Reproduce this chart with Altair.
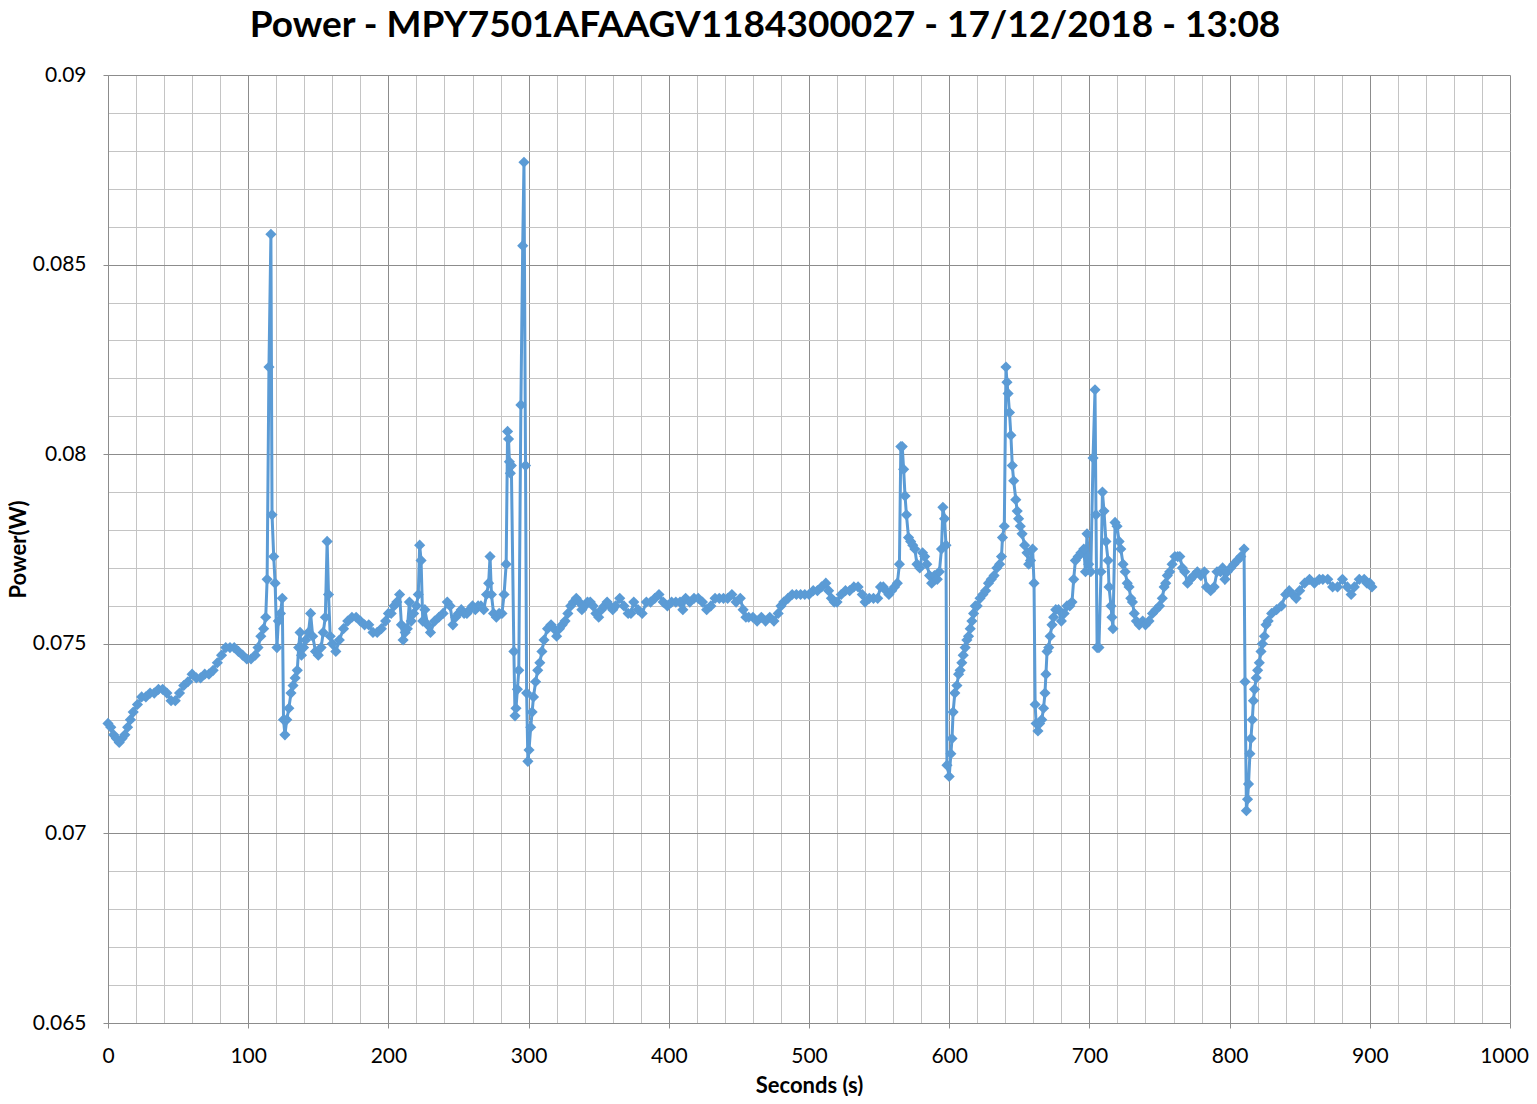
import altair as alt
import pandas as pd

# (seconds, power W) readings
seg_a = [(0, 0.0729), (2, 0.0728), (4, 0.0726), (6, 0.0725), (8, 0.0724), (10, 0.0725), (12, 0.0726),
         (14, 0.0728), (16, 0.0730), (18, 0.0732), (21, 0.0734), (24, 0.0736), (27, 0.0736), (30, 0.0737),
         (33, 0.0737), (36, 0.0738), (39, 0.0738), (42, 0.0737), (45, 0.0735), (48, 0.0735), (51, 0.0737),
         (54, 0.0739), (57, 0.0740), (60, 0.0742), (63, 0.0741), (66, 0.0741), (69, 0.0742), (72, 0.0742),
         (75, 0.0743), (78, 0.0745), (81, 0.0747), (84, 0.0749), (87, 0.0749), (90, 0.0749), (93, 0.0748),
         (96, 0.0747), (99, 0.0746), (102, 0.0746), (105, 0.0747), (107, 0.0749), (109, 0.0752), (111, 0.0754)]
seg_b = [(112.5, 0.0757), (113.5, 0.0767), (114.8, 0.0823), (116.2, 0.0858), (117, 0.0784), (118.2, 0.0773),
         (119.2, 0.0766), (120.5, 0.0749), (121.5, 0.0756), (123, 0.0758), (124.3, 0.0762), (125.2, 0.0730),
         (126.2, 0.0726), (127.5, 0.0730), (129, 0.0733), (130.5, 0.0737)]
seg_c = [(132, 0.0739), (133.5, 0.0741), (135, 0.0743), (136, 0.0749), (137, 0.0753), (138, 0.0747),
         (139.5, 0.0749), (141, 0.0751), (143, 0.0753), (144.5, 0.0758), (146, 0.0752), (148, 0.0748),
         (150, 0.0747), (152, 0.0749), (153.5, 0.0753), (155, 0.0757), (156.3, 0.0777), (157.3, 0.0763),
         (158.5, 0.0752), (160, 0.0750)]
seg_d = [(162.5, 0.0748), (165, 0.0751), (168, 0.0754), (171, 0.0756), (174, 0.0757), (177, 0.0757),
         (180, 0.0756), (183, 0.0755), (186, 0.0755), (189, 0.0753), (192, 0.0753), (195, 0.0754),
         (198, 0.0756), (200, 0.0758), (202, 0.0758), (204, 0.0760), (206, 0.0761), (208, 0.0763),
         (209.3, 0.0755), (210.5, 0.0751), (212, 0.0753), (213.5, 0.0754), (215, 0.0761), (216.3, 0.0756),
         (218, 0.0758), (220, 0.0760), (221.3, 0.0763), (222.3, 0.0776), (223.3, 0.0772), (224.5, 0.0756),
         (226, 0.0759), (228, 0.0755), (230, 0.0753), (233, 0.0756), (236, 0.0757), (239, 0.0758),
         (242, 0.0761)]
seg_e = [(244, 0.0760), (246, 0.0755), (248, 0.0757), (250, 0.0758), (252, 0.0759), (254, 0.0758),
         (256, 0.0758), (258, 0.0759), (260, 0.0760), (262, 0.0759), (264, 0.0760), (266, 0.0760),
         (268, 0.0759), (270, 0.0763), (271.5, 0.0766), (272.5, 0.0773), (273.5, 0.0763), (275, 0.0758),
         (277, 0.0757), (279, 0.0758), (281, 0.0758), (282.5, 0.0763), (284, 0.0771)]
seg_f = [(285, 0.0806), (285.7, 0.0804), (286.3, 0.0798), (287, 0.0795), (287.7, 0.0797), (289.5, 0.0748),
         (290.3, 0.0731), (291, 0.0733), (292, 0.0738), (293, 0.0743), (294.5, 0.0813), (295.8, 0.0855),
         (296.7, 0.0877), (297.8, 0.0797), (298.6, 0.0737), (299.5, 0.0719), (300.3, 0.0722), (301.5, 0.0728),
         (302.5, 0.0732), (303.5, 0.0736), (305, 0.0740), (306.5, 0.0743), (308, 0.0745), (309.5, 0.0748),
         (311, 0.0751), (313.5, 0.0754), (316, 0.0755)]
seg_g = [(318, 0.0754), (320, 0.0752), (322, 0.0754), (324, 0.0755), (326, 0.0756), (328, 0.0758),
         (330, 0.0760), (332, 0.0761), (334, 0.0762), (336, 0.0761), (338, 0.0759), (340, 0.0760),
         (342, 0.0761), (344, 0.0761), (346, 0.0760), (348, 0.0758), (350, 0.0757), (352, 0.0759),
         (354, 0.0760), (356, 0.0761), (358, 0.0760), (360, 0.0759)]
seg_h = [(362, 0.0760), (365, 0.0762), (368, 0.0760), (371, 0.0758), (373, 0.0758), (375, 0.0761),
         (378, 0.0759), (381, 0.0758), (384, 0.0761), (387, 0.0761), (390, 0.0762), (393, 0.0763),
         (396, 0.0761), (399, 0.0760), (402, 0.0761), (405, 0.0761), (408, 0.0761), (410, 0.0759),
         (412, 0.0762), (415, 0.0761), (418, 0.0762), (421, 0.0762), (424, 0.0761), (427, 0.0759),
         (430, 0.0760), (433, 0.0762), (436, 0.0762), (439, 0.0762), (442, 0.0762), (445, 0.0763),
         (448, 0.0761), (451, 0.0762), (453, 0.0759), (455, 0.0757), (457, 0.0757), (460, 0.0757),
         (463, 0.0756), (466, 0.0757), (469, 0.0756), (472, 0.0757), (475, 0.0756), (478, 0.0758)]
seg_i = [(480, 0.0760), (482, 0.0761), (485, 0.0762), (488, 0.0763), (491, 0.0763), (494, 0.0763),
         (497, 0.0763), (500, 0.0763), (503, 0.0764), (506, 0.0764), (509, 0.0765), (512, 0.0766),
         (514, 0.0764), (516, 0.0762), (518, 0.0761), (520, 0.0761), (523, 0.0763), (526, 0.0764),
         (529, 0.0764), (532, 0.0765), (535, 0.0765), (538, 0.0763), (540, 0.0761), (543, 0.0762),
         (546, 0.0762), (549, 0.0762), (551, 0.0765), (553, 0.0765), (555, 0.0764), (557, 0.0763),
         (559, 0.0764), (561, 0.0765), (563, 0.0766), (564.5, 0.0771)]
seg_j = [(565.5, 0.0802), (566.5, 0.0802), (567.5, 0.0796), (568.5, 0.0789), (569.5, 0.0784), (571, 0.0778),
         (572.5, 0.0777), (574, 0.0776), (575.5, 0.0775), (577, 0.0771), (579, 0.0770), (581, 0.0774),
         (582.5, 0.0773), (584, 0.0771), (586, 0.0768), (587.5, 0.0766), (589.5, 0.0768), (591.5, 0.0767),
         (593, 0.0769), (594.5, 0.0775), (595.5, 0.0786), (596.7, 0.0783), (597.7, 0.0776), (598.4, 0.0718),
         (600, 0.0715)]
seg_k = [(601.2, 0.0721), (602, 0.0725), (602.8, 0.0732), (604, 0.0737), (605.5, 0.0739), (606.7, 0.0742),
         (607.8, 0.0743), (609, 0.0745), (610, 0.0747), (611.4, 0.0749), (612.6, 0.0751), (613.8, 0.0752),
         (615, 0.0754), (616.2, 0.0756), (617.4, 0.0758), (618.6, 0.0760), (620, 0.0760), (622, 0.0762),
         (624, 0.0763), (626, 0.0764), (628, 0.0766), (630, 0.0767), (632, 0.0768), (634, 0.0770),
         (636, 0.0771), (637.3, 0.0773), (638, 0.0778), (639.3, 0.0781), (640.5, 0.0823), (641.2, 0.0819),
         (642, 0.0816), (643, 0.0811), (644, 0.0805), (645, 0.0797), (646, 0.0793), (647.5, 0.0788),
         (648.5, 0.0785), (649.5, 0.0783), (650.7, 0.0781), (652, 0.0779), (653.8, 0.0776), (655.5, 0.0774),
         (656.7, 0.0771), (658, 0.0772), (659.5, 0.0775), (660.5, 0.0766), (661.3, 0.0734)]
seg_l = [(662, 0.0729), (663.3, 0.0727), (664.5, 0.0729), (666, 0.0730), (667.3, 0.0733), (668.3, 0.0737),
         (669, 0.0742), (669.8, 0.0748), (671, 0.0749), (672, 0.0752), (673.3, 0.0755), (674.5, 0.0757),
         (676, 0.0759), (678, 0.0759), (680, 0.0756), (682, 0.0758), (684, 0.0760), (686, 0.0760),
         (687.6, 0.0761), (688.8, 0.0767), (690, 0.0772), (692, 0.0773), (694, 0.0774), (696, 0.0775),
         (697.2, 0.0769), (698.3, 0.0779), (699.5, 0.0771), (701, 0.0769)]
seg_m = [(702.6, 0.0799), (704, 0.0817), (704.7, 0.0784), (705.5, 0.0749), (706.8, 0.0749), (708.3, 0.0769),
         (709.3, 0.0790), (710.4, 0.0785), (711.8, 0.0777), (713.3, 0.0772), (714, 0.0765), (715.4, 0.0760),
         (716.1, 0.0757), (716.8, 0.0754), (718.3, 0.0782), (719.7, 0.0781), (721.2, 0.0777), (722.4, 0.0775),
         (724, 0.0771), (725.5, 0.0769), (727, 0.0766), (728.3, 0.0765), (729.5, 0.0762), (730.7, 0.0761),
         (732, 0.0758), (733.5, 0.0756), (735.5, 0.0755), (738, 0.0756), (740, 0.0755), (742.5, 0.0756),
         (745, 0.0758), (747.5, 0.0759), (750, 0.0760), (752, 0.0762), (753.3, 0.0765), (754.4, 0.0766),
         (755.6, 0.0768), (757.3, 0.0769), (759, 0.0771), (761, 0.0773), (763, 0.0773), (764.5, 0.0773),
         (766.3, 0.0770), (768, 0.0769), (770, 0.0766), (772, 0.0767), (774.5, 0.0768), (777, 0.0769),
         (779.5, 0.0768), (782, 0.0769), (783.5, 0.0765), (786.5, 0.0764), (789, 0.0765), (791, 0.0769),
         (793.5, 0.0769), (795, 0.0770), (796.7, 0.0767), (798.4, 0.0769), (800.8, 0.0770), (803, 0.0771),
         (805.5, 0.0772), (808, 0.0773), (810.3, 0.0775)]
seg_n = [(811, 0.0740), (812, 0.0706), (812.8, 0.0709), (813.5, 0.0713), (814.5, 0.0721), (815.2, 0.0725),
         (816.2, 0.0730), (817, 0.0735), (817.8, 0.0738), (819, 0.0741), (820, 0.0743), (821.2, 0.0745),
         (822.4, 0.0748), (823.4, 0.0750), (824.8, 0.0752), (826, 0.0755), (827.5, 0.0756), (830, 0.0758),
         (833.5, 0.0759), (837, 0.0760), (840, 0.0763), (842.5, 0.0764), (845, 0.0763), (847.5, 0.0762),
         (850, 0.0764), (853.5, 0.0766), (857, 0.0767), (860.5, 0.0766), (864, 0.0767), (866.5, 0.0767),
         (870, 0.0767), (873.5, 0.0765), (877, 0.0765), (880.5, 0.0767), (884, 0.0765), (886.7, 0.0763),
         (889, 0.0765), (892.5, 0.0767), (896, 0.0767), (898, 0.0766), (900, 0.0766), (901.5, 0.0765)]

readings = seg_a + seg_b + seg_c + seg_d + seg_e + seg_f + seg_g + seg_h + seg_i + seg_j + seg_k + seg_l + seg_m + seg_n
df = pd.DataFrame(readings, columns=["seconds", "power"])

title_text = "Power - MPY7501AFAAGV1184300027 - 17/12/2018 - 13:08"
x_ticks = list(range(0, 1001, 20))
y_ticks = [round(0.065 + i * 0.001, 3) for i in range(26)]

BLUE = "#5B9BD5"
FONT = "Lato"
MAJOR = "#8c8c8c"
MINOR = "#c4c4c4"

x_major = "datum.value % 100 === 0"
y_major = "abs(datum.value * 200 - round(datum.value * 200)) < 0.001"

x_axis = alt.Axis(
    values=x_ticks, format="d", title="Seconds (s)",
    labelExpr=f"({x_major}) ? datum.label : ''",
    gridColor={"condition": {"test": x_major, "value": MAJOR}, "value": MINOR},
    tickColor={"condition": {"test": x_major, "value": MAJOR}, "value": "transparent"},
    labelOffset={"condition": {"test": "datum.value === 1000", "value": -6}, "value": 0},
    tickSize=5, labelPadding=17, labelFont=FONT, labelFontSize=21, labelColor="black",
    titleFont=FONT, titleFontSize=22, titleFontWeight="bold", titleColor="black", titlePadding=9,
    domainColor=MAJOR, labelFlush=False, labelOverlap=False,
)
y_axis = alt.Axis(
    values=y_ticks, title="Power(W)",
    labelExpr=f"({y_major}) ? format(datum.value, '.3~f') : ''",
    gridColor={"condition": {"test": y_major, "value": MAJOR}, "value": MINOR},
    tickColor={"condition": {"test": y_major, "value": MAJOR}, "value": "transparent"},
    tickSize=5, labelPadding=17, labelFont=FONT, labelFontSize=21, labelColor="black",
    titleFont=FONT, titleFontSize=22, titleFontWeight="bold", titleColor="black", titlePadding=2,
    domainColor=MAJOR, labelFlush=False, labelOverlap=False,
)

x_enc = alt.X("seconds:Q", scale=alt.Scale(domain=[0, 1000], nice=False, zero=False), axis=x_axis)
y_enc = alt.Y("power:Q", scale=alt.Scale(domain=[0.065, 0.09], nice=False, zero=False), axis=y_axis)

base = alt.Chart(df).encode(x=x_enc, y=y_enc, order="seconds:Q")
line = base.mark_line(color=BLUE, strokeWidth=3)
pts = base.mark_point(shape="diamond", filled=True, size=125, color=BLUE, opacity=1)

chart = (line + pts).properties(
    width=1402, height=948,
    autosize=alt.AutoSizeParams(type="none"),
    padding={"left": 100, "top": 67, "right": 19, "bottom": 73},
    title=alt.TitleParams(text=title_text, font=FONT, fontSize=37, fontWeight="bold", color="black",
                          anchor="middle", dx=-44, offset=19),
).configure_view(stroke=None)

chart.save("out.html", embed_options={"renderer": "svg", "actions": False})
